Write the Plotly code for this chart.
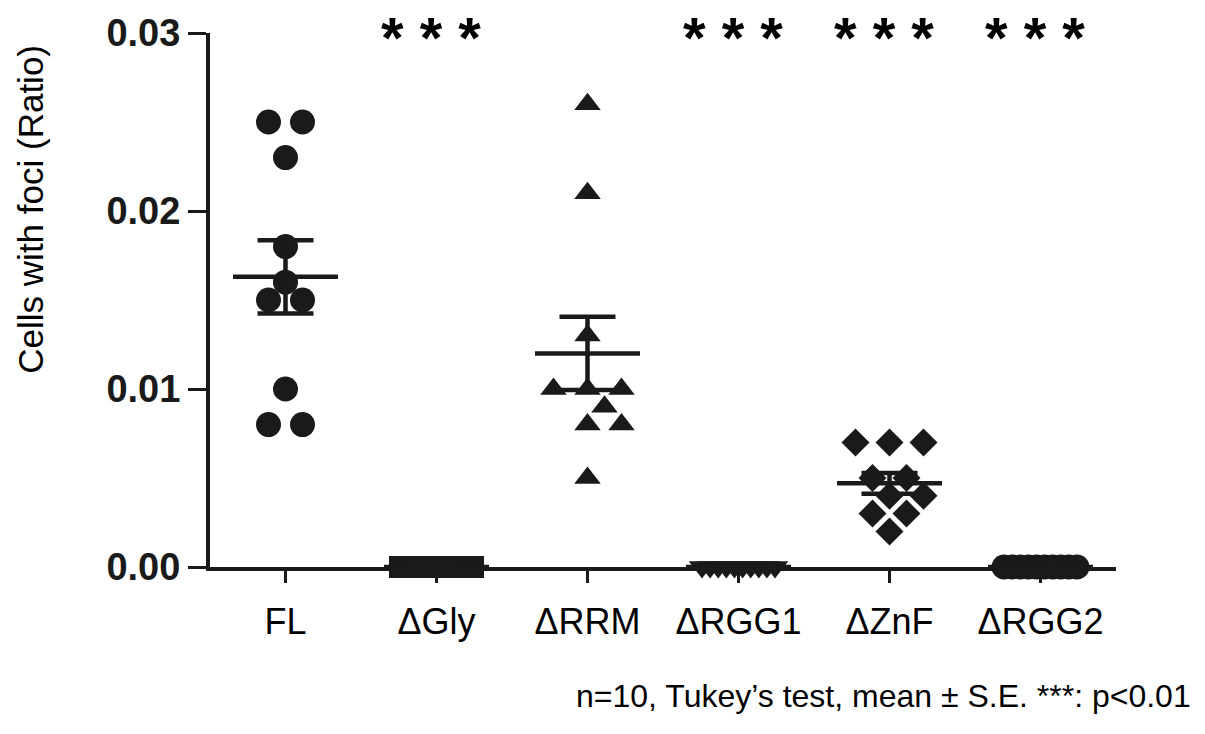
import plotly.graph_objects as go

# ---------------- data ----------------
categories = ["FL", "ΔGly", "ΔRRM", "ΔRGG1", "ΔZnF", "ΔRGG2"]
fl_vals    = [0.025, 0.025, 0.023, 0.018, 0.016, 0.015, 0.015, 0.010, 0.008, 0.008]
gly_vals   = [0.0] * 10
rrm_vals   = [0.026, 0.021, 0.013, 0.010, 0.010, 0.010, 0.009, 0.008, 0.008, 0.005]
rgg1_vals  = [0.0] * 10
znf_vals   = [0.007, 0.007, 0.007, 0.005, 0.005, 0.004, 0.004, 0.003, 0.003, 0.002]
rgg2_vals  = [0.0] * 10
groups = [fl_vals, gly_vals, rrm_vals, rgg1_vals, znf_vals, rgg2_vals]
significance = ["", "***", "", "***", "***", "***"]
y_tick_vals = [0.0, 0.01, 0.02, 0.03]
y_title = "Cells with foci (Ratio)"
footnote = "n=10, Tukey’s test, mean ± S.E. ***: p<0.01"

# ---------------- style ----------------
INK = "#1a1a1a"
symbols = ["circle", "square", "triangle-up", "triangle-down", "diamond", "circle"]
msizes = [25, 22, 23, 23, 21.5, 25]
mwidths = [25, 22, 26, 26, 28, 25]  # approximate rendered widths in px

W, H = 1205, 734
L, R, T, B = 210, 89, 26, 167
x_range = [-0.5, 5.5]
y_range = [0.0, 0.03]
plot_w = W - L - R
plot_h = H - T - B
PX_X = plot_w / (x_range[1] - x_range[0])
PX_Y = plot_h / (y_range[1] - y_range[0])

STEP = 34.0
MAX_SPAN = 73.0


def page_to_paper_x(px):
    return (px - L) / plot_w


def page_to_paper_y(py):
    return (H - B - py) / plot_h


def swarm(values, size_px):
    vals = sorted(values, reverse=True)
    rows = []
    for v in vals:
        if rows and abs(rows[-1][0] - v) < 1e-12:
            rows[-1][1] += 1
        else:
            rows.append([v, 1])
    placed = []
    xs, ys = [], []
    d2 = (0.85 * size_px) ** 2
    shifts = [0.0]
    for j in range(1, 12):
        shifts += [j * STEP / 2, -j * STEP / 2]
    for v, k in rows:
        span = min((k - 1) * STEP, MAX_SPAN)
        base = [(-span / 2 + i * span / (k - 1)) if k > 1 else 0.0 for i in range(k)]
        ypx = v * PX_Y
        chosen = base
        for sh in shifts:
            cand = [b + sh for b in base]
            ok = all((cx - px) ** 2 + (ypx - py) ** 2 >= d2
                     for cx in cand for (px, py) in placed)
            if ok:
                chosen = cand
                break
        for cx in chosen:
            placed.append((cx, ypx))
            xs.append(cx / PX_X)
            ys.append(v)
    return xs, ys


fig = go.Figure()

for i, vals in enumerate(groups):
    offs, ys = swarm(vals, mwidths[i])
    fig.add_trace(go.Scatter(
        x=[i + o for o in offs], y=ys, mode="markers",
        marker=dict(symbol=symbols[i], size=msizes[i], color=INK, line=dict(width=0)),
        cliponaxis=False, showlegend=False, hoverinfo="skip"))

# mean +/- SE
for i, vals in enumerate(groups):
    n = len(vals)
    m = sum(vals) / n
    sd = (sum((v - m) ** 2 for v in vals) / (n - 1)) ** 0.5
    se = sd / n ** 0.5
    fig.add_trace(go.Scatter(
        x=[i], y=[m], mode="markers",
        marker=dict(symbol="line-ew-open", size=75, color=INK, line=dict(width=4.5, color=INK)),
        error_y=dict(type="data", array=[se], visible=True, thickness=4.5, width=28, color=INK),
        cliponaxis=False, showlegend=False, hoverinfo="skip"))

annotations = []
for i, s in enumerate(significance):
    if s:
        annotations.append(dict(
            x=i, xref="x", xshift=-6, y=1, yref="paper", yanchor="middle", yshift=-4,
            text=" ".join(list(s)), showarrow=False,
            font=dict(family="Liberation Sans", size=58, color="black", weight="bold")))

annotations.append(dict(
    x=page_to_paper_x(31), xref="paper", y=page_to_paper_y(205), yref="paper",
    text=y_title, textangle=-90, showarrow=False, xanchor="center", yanchor="middle",
    font=dict(family="Liberation Sans", size=35, color="black")))

annotations.append(dict(
    x=page_to_paper_x(1193), xref="paper", y=page_to_paper_y(698), yref="paper",
    text=footnote, showarrow=False, xanchor="right", yanchor="middle",
    font=dict(family="Liberation Sans", size=32, color="black")))

fig.update_layout(
    width=W, height=H,
    margin=dict(l=L, r=R, t=T, b=B),
    paper_bgcolor="white", plot_bgcolor="white",
    annotations=annotations,
    xaxis=dict(range=x_range, tickmode="array", tickvals=list(range(len(categories))),
               ticktext=categories, showline=True, linewidth=4, linecolor=INK,
               ticks="outside", ticklen=12, tickwidth=3, tickcolor=INK,
               ticklabelstandoff=8,
               showgrid=False, zeroline=False,
               tickfont=dict(family="Liberation Sans", size=36, color="black")),
    yaxis=dict(range=y_range, tickmode="array", tickvals=y_tick_vals,
               ticktext=[f"{v:.2f}" for v in y_tick_vals],
               showline=True, linewidth=4, linecolor=INK,
               ticks="outside", ticklen=18, tickwidth=3, tickcolor=INK,
               ticklabeloverflow="allow",
               showgrid=False, zeroline=False,
               tickfont=dict(family="Liberation Sans", size=38, color=INK, weight="bold")),
)

fig.write_html("out.html", config={"displayModeBar": False},
               post_script="document.body.style.margin='0px';")
